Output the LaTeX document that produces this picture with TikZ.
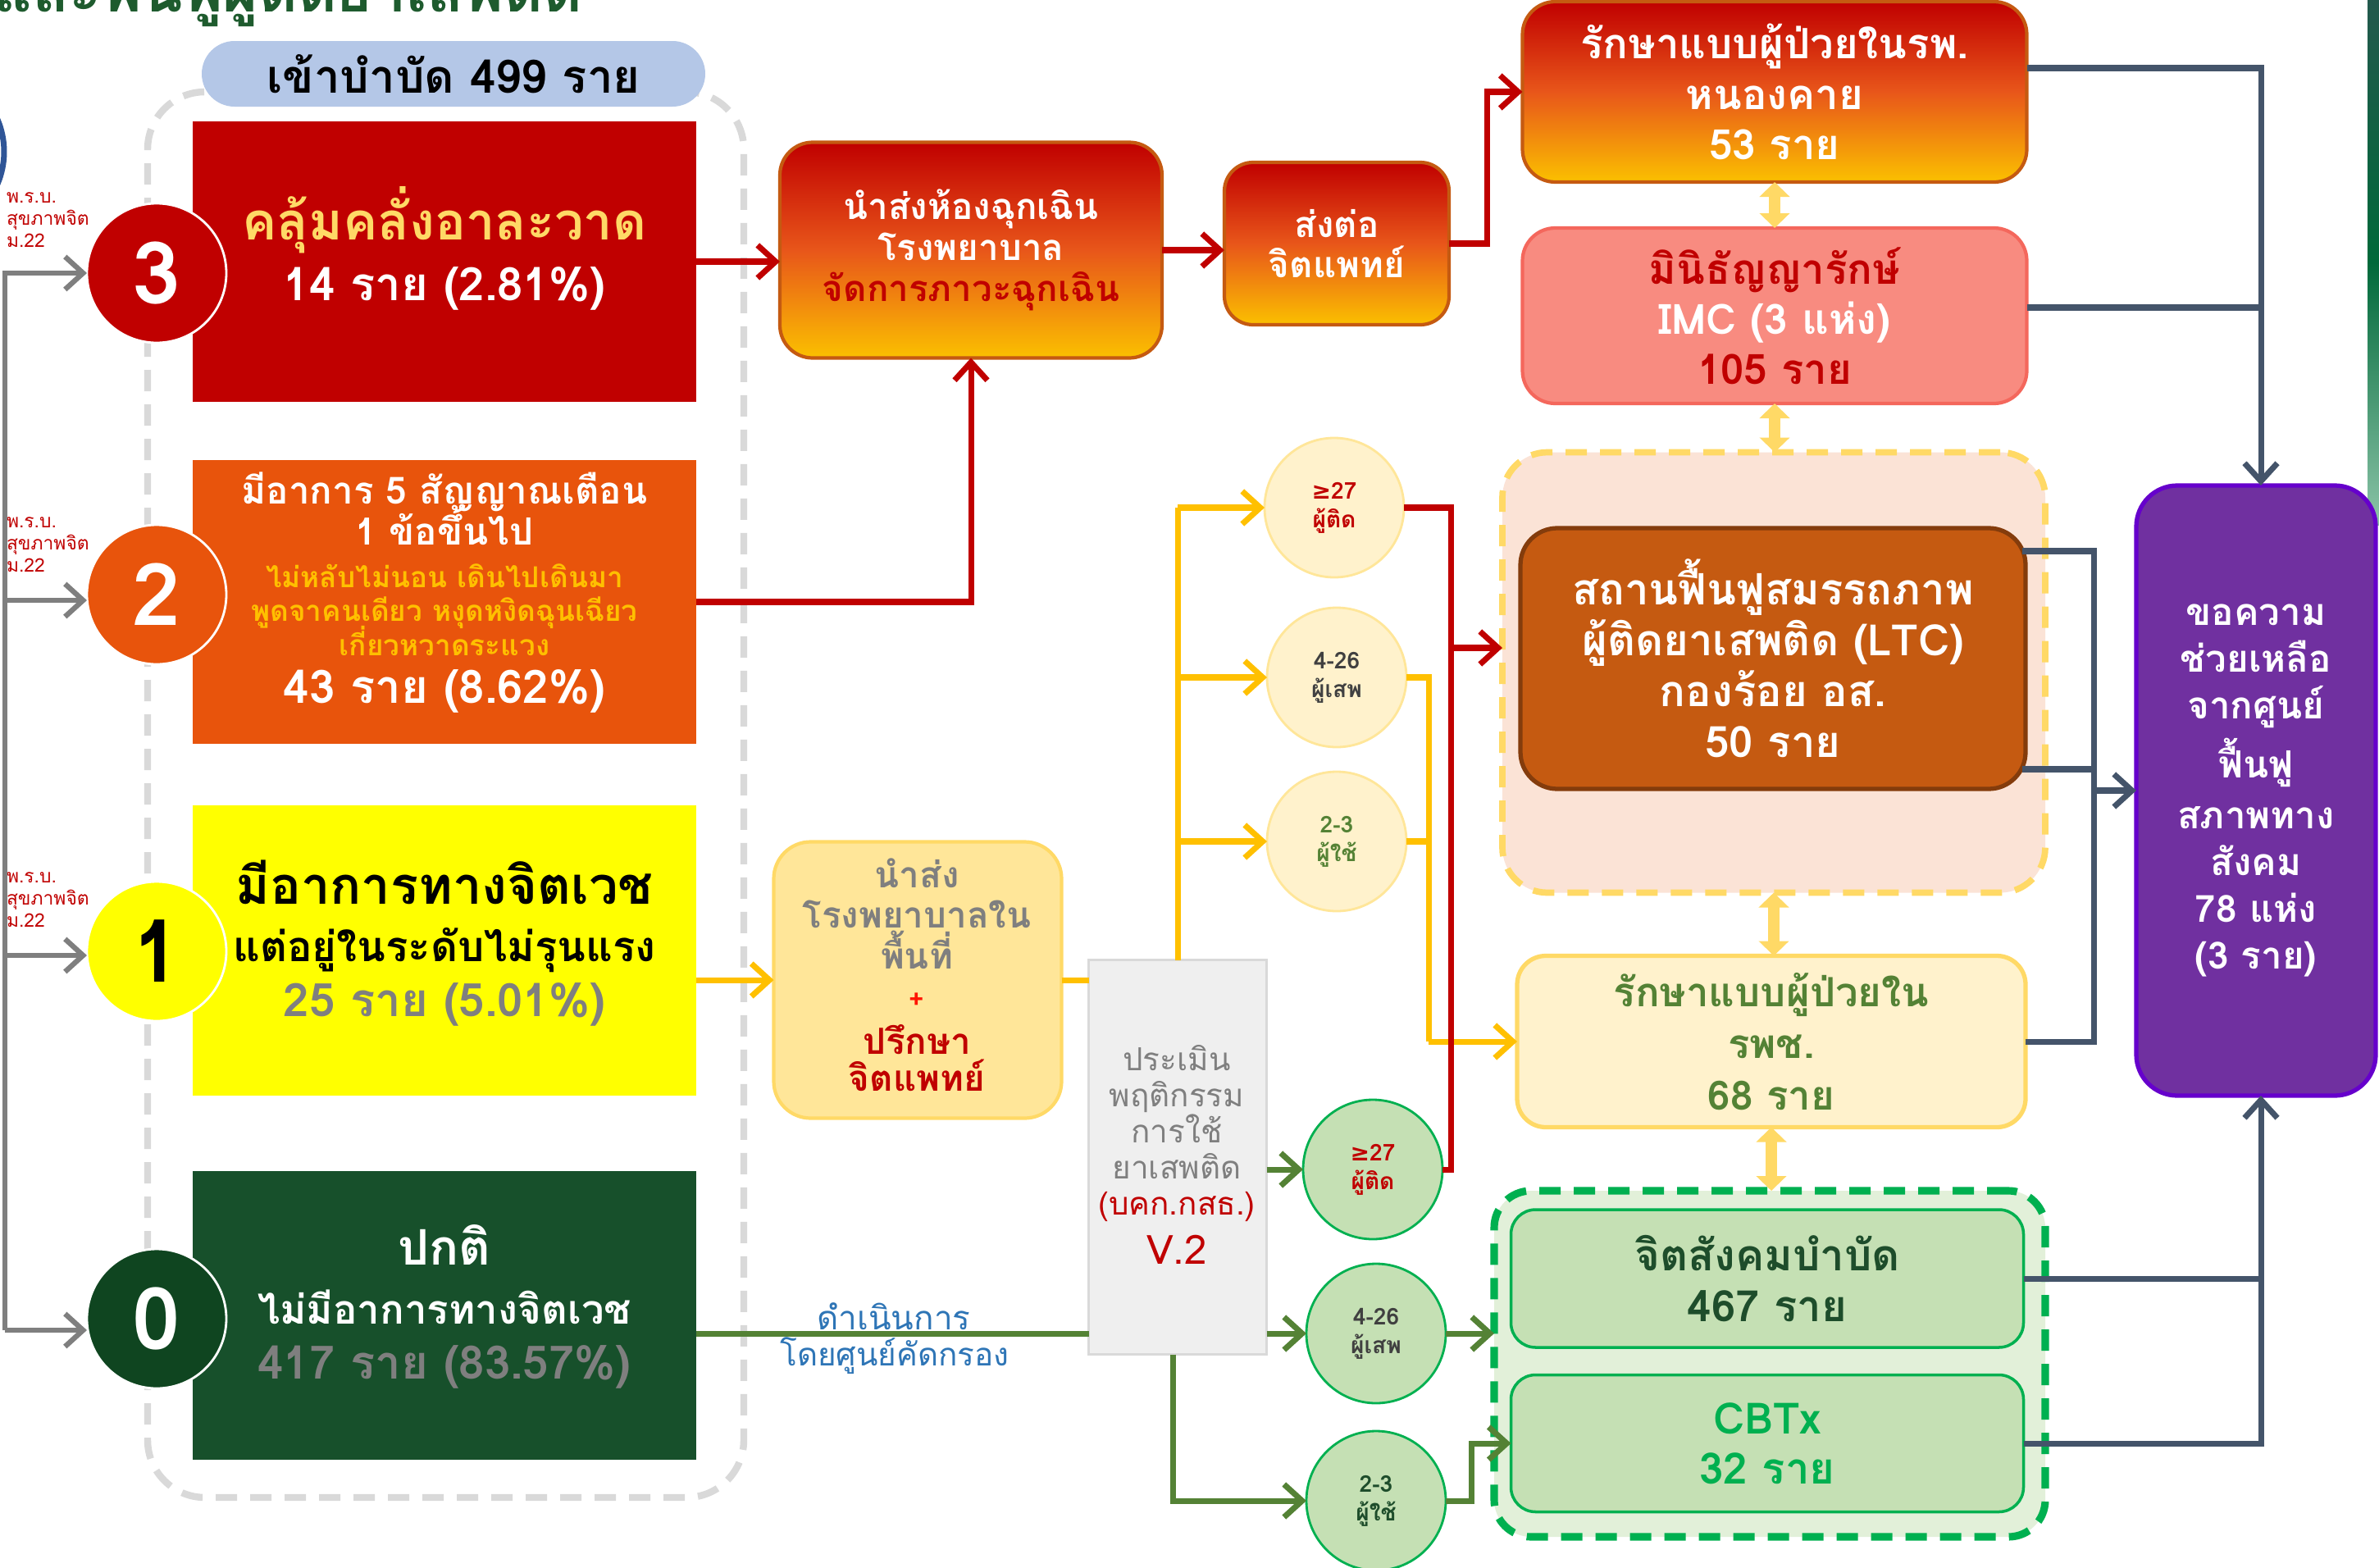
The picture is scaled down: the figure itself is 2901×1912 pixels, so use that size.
\documentclass[tikz,border=0pt]{standalone}
\usepackage{fontspec}
\setmainfont{Loma}[Script=Thai]
\newfontfamily\dejavu{DejaVu Sans}
\usetikzlibrary{arrows.meta}
\newcommand\fsz[2]{\fontsize{#1}{#2}\selectfont}
\definecolor{cdred}{HTML}{C00000}
\definecolor{corg}{HTML}{E8540C}
\definecolor{cyel}{HTML}{FFFF00}
\definecolor{cgrnz}{HTML}{17502B}
\definecolor{cgrnzc}{HTML}{0F4520}
\definecolor{cgold}{HTML}{FFD966}
\definecolor{camber}{HTML}{FFC000}
\definecolor{cgraytxt}{HTML}{7F7F7F}
\definecolor{cpill}{HTML}{B4C7E7}
\definecolor{cdashg}{HTML}{D9D9D9}
\definecolor{clocal}{HTML}{FFE699}
\definecolor{cass}{HTML}{EFEFEF}
\definecolor{cycirc}{HTML}{FFF2CC}
\definecolor{cgline}{HTML}{548235}
\definecolor{cgcirc}{HTML}{C5E0B4}
\definecolor{cgbord}{HTML}{00B050}
\definecolor{cgcont}{HTML}{E2F0D9}
\definecolor{cimc}{HTML}{F88B80}
\definecolor{cimcb}{HTML}{F4675C}
\definecolor{cltcc}{HTML}{FBE3D6}
\definecolor{cltc}{HTML}{C55A11}
\definecolor{cltcb}{HTML}{843C0C}
\definecolor{cpur}{HTML}{7030A0}
\definecolor{cpurb}{HTML}{6600CC}
\definecolor{cslate}{HTML}{44546A}
\definecolor{cbluet}{HTML}{2E75B6}
\definecolor{ctitle}{HTML}{1E5B2E}
\definecolor{cgtop}{HTML}{C00000}
\definecolor{cgmid}{HTML}{E8561A}
\definecolor{cgbot}{HTML}{FBC000}
\definecolor{cgradb}{HTML}{C55A11}
\definecolor{cdgray}{HTML}{404040}
\definecolor{cdkgt}{HTML}{1E4D2B}
\definecolor{cline}{HTML}{7F7F7F}
\definecolor{carc}{HTML}{2F5597}
\definecolor{cbandt}{HTML}{23594D}
\definecolor{cbandm}{HTML}{00693A}
\definecolor{cbandb}{HTML}{8CC4A8}
\begin{document}
\begin{tikzpicture}[x=0.1mm, y=-0.1mm,
  every node/.style={inner sep=0, outer sep=0},
  tl/.style={anchor=mid},
  tm/.style={align=center},
  arr/.style={-{Straight Barb[length=2.2mm,width=4mm]}},
  redc/.style={draw=cdred, line width=2pt},
  yc/.style={draw=camber, line width=2pt},
  gc/.style={draw=cgline, line width=2pt},
  sc/.style={draw=cslate, line width=2pt},
  grc/.style={draw=cline, line width=1.8pt},
  dbl/.style={draw=cgold, line width=4pt, {Triangle[length=1.8mm,width=3.6mm]}-{Triangle[length=1.8mm,width=3.6mm]}},
  circ/.style={circle, minimum size=17mm, draw=white, line width=0.8pt, font=\bfseries\fsz{30}{30}},
  scirc/.style={circle, minimum size=17mm, line width=0.8pt, align=center, font=\bfseries\fsz{8}{10}},
  grad/.style={top color=cgtop, bottom color=cgbot, middle color=cgmid, draw=cgradb, line width=1.2pt},
  lvbox/.style={minimum width=61.4mm, inner sep=0},
  grpdash/.style={dash pattern=on 2.6mm off 1.6mm},
]
\fill[white] (0,0) rectangle (2901,1912);
\useasboundingbox (0,0) rectangle (2901,1912);

% right edge band and left arc
\shade[top color=cbandt, bottom color=cbandb, middle color=cbandm] (2887,0) rectangle (2901,640);
\draw[carc, line width=0.7mm] (-95,185) circle[radius=10mm];

% title (cut off at top, as in the reference)
\node[anchor=base west, font=\bfseries\fsz{21}{25}, text=ctitle] (title) at (-8,15) {และฟื้นฟูผู้ติดยาเสพติด};

% left group
\node[draw=cdashg, line width=2.4pt, grpdash, rounded corners=7mm, minimum width=72.7mm, minimum height=171.4mm] (grp) at (543.5,969) {};
\node[fill=cpill, rounded corners=4mm, minimum width=61.4mm, minimum height=8mm, font=\bfseries\fsz{16}{19}] (pill) at (553,90) {เข้าบำบัด 499 ราย};

\node[lvbox, fill=cdred, minimum height=34.2mm] (b3) at (542,319) {};
\node[lvbox, fill=corg, minimum height=34.6mm] (b2) at (542,734) {};
\node[lvbox, fill=cyel, minimum height=35.4mm] (b1) at (542,1159) {};
\node[lvbox, fill=cgrnz, minimum height=35.2mm] (b0) at (542,1604) {};

\node[tl, font=\bfseries\fsz{18}{21}, text=cgold] (b3a) at (542,283) {คลุ้มคลั่งอาละวาด};
\node[tl, font=\bfseries\fsz{16}{19}, text=white] (b3b) at (542,357) {14 ราย (2.81\%)};

\node[tl, font=\bfseries\fsz{13}{16}, text=white] (b2a) at (542,605) {มีอาการ 5 สัญญาณเตือน};
\node[tl, font=\bfseries\fsz{13}{16}, text=white] (b2b) at (542,655) {1 ข้อขึ้นไป};
\node[tl, font=\bfseries\fsz{10}{12}, text=camber] (b2c) at (542,707) {ไม่หลับไม่นอน เดินไปเดินมา};
\node[tl, font=\bfseries\fsz{10}{12}, text=camber] (b2d) at (542,748) {พูดจาคนเดียว หงุดหงิดฉุนเฉียว};
\node[tl, font=\bfseries\fsz{10}{12}, text=camber] (b2e) at (542,790) {เกี่ยวหวาดระแวง};
\node[tl, font=\bfseries\fsz{16}{19}, text=white] (b2f) at (542,848) {43 ราย (8.62\%)};

\node[tl, font=\bfseries\fsz{18}{21}, text=black] (b1a) at (542,1093) {มีอาการทางจิตเวช};
\node[tl, font=\bfseries\fsz{14.5}{17}, text=black] (b1b) at (542,1163) {แต่อยู่ในระดับไม่รุนแรง};
\node[tl, font=\bfseries\fsz{16}{19}, text=cgraytxt] (b1c) at (542,1230) {25 ราย (5.01\%)};

\node[tl, font=\bfseries\fsz{17}{20}, text=white] (b0a) at (542,1533) {ปกติ};
\node[tl, font=\bfseries\fsz{14}{17}, text=white] (b0b) at (542,1605) {ไม่มีอาการทางจิตเวช};
\node[tl, font=\bfseries\fsz{16}{19}, text=cgraytxt] (b0c) at (542,1672) {417 ราย (83.57\%)};

\node[circ, fill=cdred, text=white] (c3) at (191,333) {3};
\node[circ, fill=corg, text=white] (c2) at (191,725) {2};
\node[circ, fill=cyel, text=black] (c1) at (191,1160) {1};
\node[circ, fill=cgrnzc, text=white] (c0) at (191,1608) {0};

\node[anchor=west, align=left, font=\fsz{6.5}{7.7}, text=cdred] (l3) at (8,268) {พ.ร.บ.\\สุขภาพจิต\\ม.22};
\node[anchor=west, align=left, font=\fsz{6.5}{7.7}, text=cdred] (l2) at (8,664) {พ.ร.บ.\\สุขภาพจิต\\ม.22};
\node[anchor=west, align=left, font=\fsz{6.5}{7.7}, text=cdred] (l1) at (8,1097) {พ.ร.บ.\\สุขภาพจิต\\ม.22};

% middle boxes
\node[grad, rounded corners=4mm, minimum width=46.6mm, minimum height=26.3mm, tm, text=white, font=\bfseries\fsz{12.5}{14.2}] (em) at (1184,305) {นำส่งห้องฉุกเฉิน\\โรงพยาบาล\\\textcolor{cdred}{จัดการภาวะฉุกเฉิน}};
\node[grad, rounded corners=3.5mm, minimum width=27.4mm, minimum height=19.8mm, tm, text=white, font=\bfseries\fsz{12.5}{14}] (so) at (1630,297) {ส่งต่อ\\จิตแพทย์};

\node[fill=clocal, draw=cgold, line width=1.2pt, rounded corners=4.5mm, minimum width=35.1mm, minimum height=33.7mm] (lh) at (1119,1195) {};
\node[tm, font=\bfseries\fsz{12.5}{14}, text=cgraytxt] (lht) at (1118,1114) {นำส่ง\\โรงพยาบาลใน\\พื้นที่};
\node[font=\bfseries\fsz{9}{9}, text=red!85!orange] (lhp) at (1118,1220) {+};
\node[tm, font=\bfseries\fsz{12.5}{13}, text=cdred] (lhr) at (1118,1290) {ปรึกษา\\จิตแพทย์};

\node[fill=cass, draw=cdashg, line width=1pt, minimum width=21.7mm, minimum height=48.1mm] (as) at (1436,1411) {};
\node[tm, font=\fsz{11}{12.5}, text=cgraytxt] (ast) at (1435,1382) {ประเมิน\\พฤติกรรม\\การใช้\\ยาเสพติด\\\textcolor{cdred}{(บคก.กสธ.)}};
\node[font=\fsz{14}{14}, text=cdred] (asv) at (1435,1524) {V.2};

\node[scirc, fill=cycirc, draw=clocal, text=cdred] (y27) at (1627,619) {{\dejavu ≥}27\\ผู้ติด};
\node[scirc, fill=cycirc, draw=clocal, text=cdgray] (y426) at (1630,826) {4-26\\ผู้เสพ};
\node[scirc, fill=cycirc, draw=clocal, text=cgline] (y23) at (1630,1026) {2-3\\ผู้ใช้};
\node[scirc, fill=cgcirc, draw=cgbord, text=cdred] (g27) at (1674,1426) {{\dejavu ≥}27\\ผู้ติด};
\node[scirc, fill=cgcirc, draw=cgbord, text=cdgray] (g426) at (1678,1626) {4-26\\ผู้เสพ};
\node[scirc, fill=cgcirc, draw=cgbord, text=cdkgt] (g23) at (1678,1830) {2-3\\ผู้ใช้};

% right column
\node[grad, rounded corners=4mm, minimum width=61.5mm, minimum height=22mm, tm, text=white, font=\bfseries\fsz{14.5}{17.4}] (tb) at (2164,112) {รักษาแบบผู้ป่วยในรพ.\\หนองคาย\\53 ราย};
\node[fill=cimc, draw=cimcb, line width=1.2pt, rounded corners=4mm, minimum width=61.5mm, minimum height=21.4mm, tm, text=white, font=\bfseries\fsz{14.5}{17.4}] (imc) at (2164,385) {\textcolor{cdred}{มินิธัญญารักษ์}\\IMC (3 แห่ง)\\\textcolor{cdred}{105 ราย}};
\node[fill=cltcc, draw=cgold, line width=2.2pt, grpdash, rounded corners=5.5mm, minimum width=66.2mm, minimum height=53.7mm] (ltcc) at (2163,820) {};
\node[fill=cltc, draw=cltcb, line width=1.5pt, rounded corners=4.5mm, minimum width=61.6mm, minimum height=31.8mm, tm, text=white, font=\bfseries\fsz{15}{17.6}] (ltc) at (2162,803) {สถานฟื้นฟูสมรรถภาพ\\ผู้ติดยาเสพติด (LTC)\\กองร้อย อส.\\50 ราย};
\node[fill=cycirc, draw=cgold, line width=1.5pt, rounded corners=3.5mm, minimum width=62mm, minimum height=20.9mm, tm, text=cgline, font=\bfseries\fsz{14}{18}] (rpc) at (2160,1270) {รักษาแบบผู้ป่วยใน\\รพช.\\68 ราย};
\node[fill=cgcont, draw=cgbord, line width=2.6pt, grpdash, rounded corners=4.5mm, minimum width=67.2mm, minimum height=42.2mm] (gcont) at (2158,1663) {};
\node[fill=cgcirc, draw=cgbord, line width=1pt, rounded corners=3mm, minimum width=62.5mm, minimum height=16.8mm, tm, text=cdkgt, font=\bfseries\fsz{15}{17.4}] (jsk) at (2155,1559) {จิตสังคมบำบัด\\467 ราย};
\node[fill=cgcirc, draw=cgbord, line width=1pt, rounded corners=3mm, minimum width=62.5mm, minimum height=16.7mm, tm, text=cgbord, font=\bfseries\fsz{15}{17.4}] (cbt) at (2155,1760) {CBTx\\32 ราย};
\node[fill=cpur, draw=cpurb, line width=1.5pt, rounded corners=5mm, minimum width=29.2mm, minimum height=74.4mm, tm, text=white, font=\bfseries\fsz{13}{16.2}] (pu) at (2751,964) {ขอความ\\ช่วยเหลือ\\จากศูนย์\\[2.5pt]ฟื้นฟู\\[1.5pt]สภาพทาง\\สังคม\\78 แห่ง\\(3 ราย)};

% labels on green line
\node[font=\fsz{11.5}{14}, text=cbluet] (lab1) at (1090,1605) {ดำเนินการ};
\node[font=\fsz{11}{14}, text=cbluet] (lab2) at (1091,1653) {โดยศูนย์คัดกรอง};

% coordinates
\coordinate (gtop) at (6,333);
\coordinate (gq2) at (6,732);
\coordinate (gq1) at (6,1165);
\coordinate (gbot) at (6,1622);
\coordinate (rk) at (1813,0);
\coordinate (rx) at (1769,0);
\coordinate (rl) at (1769,790);
\coordinate (yx) at (1742,1270);
\coordinate (gl) at (849,1626);
\coordinate (gb) at (1430,1830);
\coordinate (gj) at (1794,0);
\coordinate (sx) at (2757,0);
\coordinate (s1) at (2472,83);
\coordinate (s2) at (2472,375);
\coordinate (lq1) at (2466,672);
\coordinate (lq2) at (2466,938);
\coordinate (lx) at (2553,0);

% gray connectors
\draw[grc, arr] (gbot) -- (gtop) -- (c3.west);
\draw[grc, arr] (gq2) -- (gq2 -| c2.west);
\draw[grc, arr] (gq1) -- (gq1 -| c1.west);
\draw[grc, arr] (gbot) -- (gbot -| c0.west);

% yellow connectors
\draw[yc, arr] (b1.east |- lh.west) -- (lh.west);
\draw[yc] (lh.east) -- (lh.east -| as.west);
\draw[yc] (as.north) -- (as.north |- y27.west);
\draw[yc, arr] (as.north |- y27.west) -- (y27.west);
\draw[yc, arr] (as.north |- y426.west) -- (y426.west);
\draw[yc, arr] (as.north |- y23.west) -- (y23.west);
\draw[yc] (y426.east) -| (yx);
\draw[yc] (y23.east) -- (y23.east -| yx);
\draw[yc, arr] (yx) -- (rpc.west);

% red connectors
\draw[redc, arr] (b3.east) -- (b3.east -| em.west);
\draw[redc, arr] (b2.east) -| (em.south);
\draw[redc, arr] (em.east) -- (em.east -| so.west);
\draw[redc, arr] (so.east) -- (so.east -| rk) |- (tb.west);
\draw[redc] (y27.east) -- (y27.east -| rx) -- (g27.east -| rx) -- (g27.east);
\draw[redc, arr] (rl) -- (rl -| ltcc.west);

% green connectors
\draw[gc] (gl) -- (gl -| as.west);
\draw[gc, arr] (as.east |- g27.west) -- (g27.west);
\draw[gc, arr] (as.east |- g426.west) -- (g426.west);
\draw[gc, arr] (as.south -| gb) -- (gb) -- (g23.west);
\draw[gc, arr] (g426.east) -- (g426.east -| gcont.west);
\draw[gc, arr] (g23.east) -- (g23.east -| gj) -- (gj |- cbt.west) -- (cbt.west);

% slate connectors
\draw[sc, arr] (s1) -| (sx |- pu.north);
\draw[sc] (s2) -- (s2 -| sx);
\draw[sc] (lq1) -- (lq1 -| lx) -- (lx |- rpc.east) -- (rpc.east);
\draw[sc] (lq2) -- (lq2 -| lx);
\draw[sc, arr] (lx |- pu.west) -- (pu.west);
\draw[sc, arr] (cbt.east) -| (sx |- pu.south);
\draw[sc] (jsk.east) -- (jsk.east -| sx);

% double arrows
\draw[dbl] (tb.south) -- (imc.north);
\draw[dbl] (imc.south) -- (imc.south |- ltcc.north);
\draw[dbl] (ltcc.south) -- (ltcc.south |- rpc.north);
\draw[dbl] (rpc.south) -- (rpc.south |- gcont.north);
\end{tikzpicture}
\end{document}
